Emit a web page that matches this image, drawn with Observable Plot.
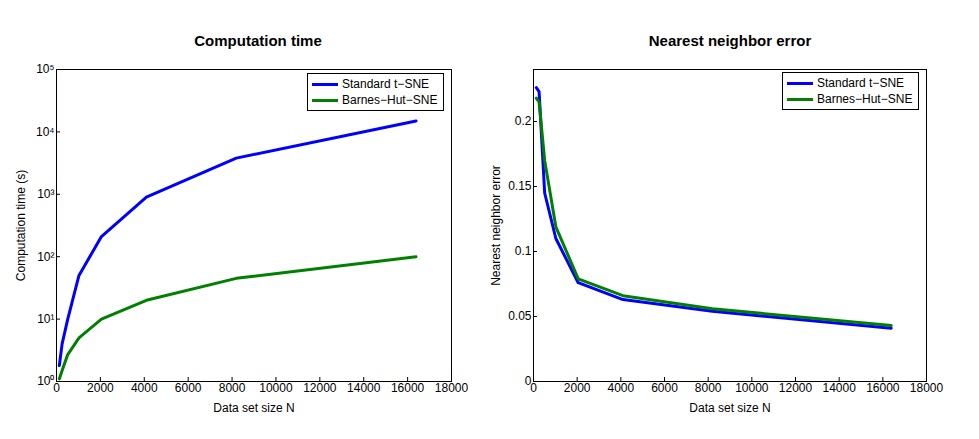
<!DOCTYPE html>
<html><head><meta charset="utf-8">
<script src="https://cdn.jsdelivr.net/npm/d3@7"></script>
<script src="https://cdn.jsdelivr.net/npm/@observablehq/plot@0.6"></script>
<style>
body{margin:0;background:#fff;font-family:"Liberation Sans",Arial,sans-serif;}
.panel{position:absolute;top:0;}
.title{position:absolute;top:32px;width:100%;text-align:center;font-weight:bold;font-size:15px;}
.legend{position:absolute;border:1px solid #000;background:#fff;font-size:12px;padding:2px 6px 2px 4px;line-height:16px;}
.legend span{display:inline-block;width:26px;height:3px;vertical-align:middle;margin-right:4px;}
</style></head><body>
<div id="left" class="panel" style="left:0;width:480px"><div class="title" style="left:18px">Computation time</div></div>
<div id="right" class="panel" style="left:480px;width:480px"><div class="title" style="left:10px">Nearest neighbor error</div></div>
<script>
const sizes = [128, 256, 512, 1024, 2048, 4096, 8192, 16384];
const timeStandard = [1.8, 4, 10, 50, 210, 900, 3800, 15000];
const timeBH = [1.1, 1.5, 2.7, 5, 10, 20, 45, 100];
const errStandard = [0.226, 0.223, 0.145, 0.11, 0.076, 0.063, 0.054, 0.041];
const errBH = [0.218, 0.215, 0.17, 0.119, 0.079, 0.066, 0.056, 0.043];
const xTicks = d3.range(0, 18001, 2000);
const sup = {"0":"⁰","1":"¹","2":"²","3":"³","4":"⁴","5":"⁵"};

const rows = (ys, s) => sizes.map((x, i) => ({x, y: ys[i], s}));
const colors = {std: "#0000ff", bh: "#008000"};

function chart(data, y, ml, mr) {
  return Plot.plot({
    width: 470, height: 420, marginLeft: ml, marginRight: mr, marginTop: 69, marginBottom: 39,
    style: {fontFamily: "Liberation Sans, Arial, sans-serif", fontSize: "12px", color: "#000", background: "transparent"},
    x: {domain: [0, 18000], ticks: xTicks, tickFormat: d => String(d), tickSize: -4, label: "Data set size N",
        labelArrow: "none", labelAnchor: "center", labelOffset: 30, tickPadding: 6},
    y: {...y, tickSize: -4, labelAnchor: "center", labelArrow: "none", tickPadding: 6},
    marks: [
      Plot.frame({stroke: "#000"}),
      Plot.line(data, {x: "x", y: "y", z: "s", stroke: d => colors[d.s], strokeWidth: 3})
    ]
  });
}

const left = chart([...rows(timeStandard, "std"), ...rows(timeBH, "bh")], {
  type: "log", domain: [1, 1e5], ticks: [1, 10, 100, 1e3, 1e4, 1e5],
  tickFormat: d => "10" + sup[Math.round(Math.log10(d))], label: "Computation time (s)", labelOffset: 40
}, 56, 19);
const right = chart([...rows(errStandard, "std"), ...rows(errBH, "bh")], {
  domain: [0, 0.24], ticks: [0, 0.05, 0.1, 0.15, 0.2], tickFormat: d => String(d),
  label: "Nearest neighbor error", labelOffset: 42
}, 53, 24);
document.getElementById("left").append(left);
document.getElementById("right").append(right);

function legend(id, left, top) {
  const d = document.createElement("div");
  d.className = "legend";
  d.style.left = left + "px"; d.style.top = top + "px";
  d.innerHTML = `<div><span style="background:${colors.std}"></span>Standard t−SNE</div><div><span style="background:${colors.bh}"></span>Barnes−Hut−SNE</div>`;
  document.getElementById(id).append(d);
}
legend("left", 307, 73);
legend("right", 302, 72);
</script>
</body></html>
